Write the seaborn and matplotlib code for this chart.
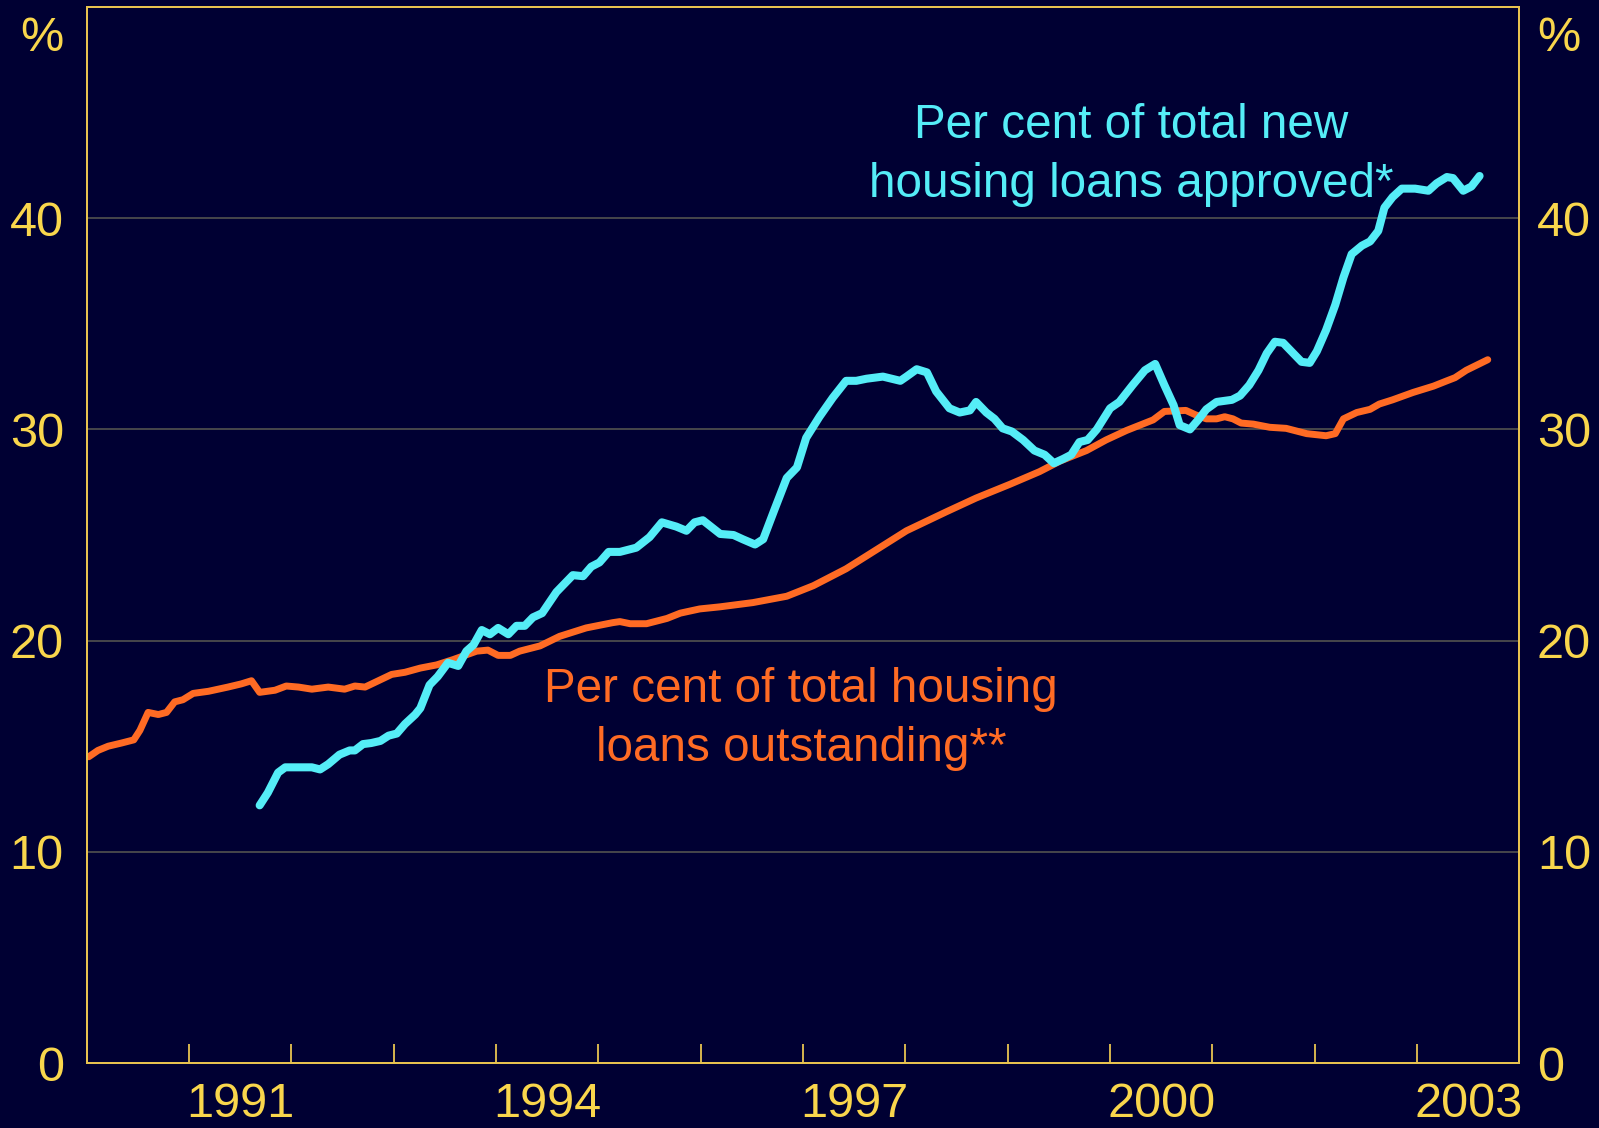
import matplotlib
matplotlib.use("Agg")
import matplotlib.pyplot as plt
import matplotlib.transforms as mtransforms
import seaborn as sns
import pandas as pd

# ---- data ----
outstanding_year = [
    1990.02, 1990.11, 1990.21, 1990.34, 1990.46, 1990.52, 1990.60, 1990.70, 1990.78, 1990.86,
    1990.94, 1991.04, 1991.19, 1991.38, 1991.51, 1991.61, 1991.69, 1991.84, 1991.95, 1992.07,
    1992.20, 1992.36, 1992.52, 1992.62, 1992.72, 1992.85, 1992.98, 1993.11, 1993.26, 1993.42,
    1993.58, 1993.81, 1993.92, 1994.02, 1994.14, 1994.23, 1994.43, 1994.62, 1994.88, 1995.14,
    1995.21, 1995.31, 1995.47, 1995.67, 1995.80, 1995.99, 1996.19, 1996.51, 1996.84, 1997.10,
    1997.42, 1997.65, 1998.01, 1998.40, 1998.69, 1999.02, 1999.31, 1999.51, 1999.77, 1999.96,
    2000.16, 2000.42, 2000.53, 2000.74, 2000.83, 2000.94, 2001.04, 2001.12, 2001.20, 2001.28,
    2001.40, 2001.56, 2001.72, 2001.92, 2002.11, 2002.20, 2002.28, 2002.41, 2002.54, 2002.63,
    2002.76, 2002.96, 2003.16, 2003.29, 2003.37, 2003.48, 2003.69,
]
outstanding_pct = [
    14.5, 14.8, 15.0, 15.15, 15.3, 15.75, 16.6, 16.5, 16.6, 17.1,
    17.2, 17.5, 17.6, 17.8, 17.95, 18.1, 17.55, 17.65, 17.85, 17.8,
    17.7, 17.8, 17.7, 17.85, 17.8, 18.1, 18.4, 18.5, 18.7, 18.85,
    19.1, 19.5, 19.55, 19.3, 19.3, 19.5, 19.75, 20.2, 20.6, 20.85,
    20.9, 20.8, 20.8, 21.05, 21.3, 21.5, 21.6, 21.8, 22.1, 22.6,
    23.4, 24.1, 25.2, 26.1, 26.75, 27.4, 28.0, 28.5, 29.0, 29.5,
    29.95, 30.45, 30.85, 30.9, 30.7, 30.5, 30.5, 30.6, 30.5, 30.3,
    30.25, 30.1, 30.05, 29.8, 29.7, 29.8, 30.5, 30.8, 30.95, 31.2,
    31.4, 31.75, 32.05, 32.3, 32.45, 32.8, 33.3,
]

approved_year = [
    1991.69, 1991.77, 1991.87, 1991.94, 1992.07, 1992.20, 1992.28, 1992.36, 1992.47, 1992.57,
    1992.62, 1992.70, 1992.78, 1992.87, 1992.95, 1993.03, 1993.11, 1993.21, 1993.26, 1993.35,
    1993.43, 1993.53, 1993.63, 1993.71, 1993.78, 1993.86, 1993.94, 1994.02, 1994.12, 1994.20,
    1994.28, 1994.36, 1994.45, 1994.59, 1994.75, 1994.85, 1994.93, 1995.01, 1995.10, 1995.21,
    1995.37, 1995.50, 1995.62, 1995.76, 1995.86, 1995.94, 1996.02, 1996.19, 1996.32, 1996.41,
    1996.53, 1996.61, 1996.72, 1996.84, 1996.94, 1997.03, 1997.16, 1997.29, 1997.42, 1997.52,
    1997.62, 1997.78, 1997.95, 1998.01, 1998.11, 1998.21, 1998.30, 1998.43, 1998.53, 1998.63,
    1998.69, 1998.79, 1998.87, 1998.95, 1999.04, 1999.15, 1999.26, 1999.36, 1999.45, 1999.54,
    1999.62, 1999.70, 1999.78, 1999.87, 2000.00, 2000.09, 2000.22, 2000.34, 2000.44, 2000.53,
    2000.62, 2000.68, 2000.78, 2000.86, 2000.94, 2001.04, 2001.19, 2001.27, 2001.36, 2001.45,
    2001.53, 2001.61, 2001.69, 2001.79, 2001.87, 2001.95, 2002.02, 2002.11, 2002.20, 2002.28,
    2002.36, 2002.46, 2002.54, 2002.62, 2002.68, 2002.76, 2002.85, 2002.98, 2003.11, 2003.19,
    2003.29, 2003.35, 2003.45, 2003.53, 2003.61,
]
approved_pct = [
    12.2, 12.8, 13.75, 14.0, 14.0, 14.0, 13.9, 14.15, 14.6, 14.8,
    14.8, 15.1, 15.15, 15.25, 15.5, 15.6, 16.05, 16.5, 16.8, 17.9,
    18.3, 18.95, 18.8, 19.5, 19.8, 20.5, 20.3, 20.6, 20.3, 20.7,
    20.7, 21.1, 21.3, 22.3, 23.1, 23.05, 23.5, 23.7, 24.2, 24.2,
    24.4, 24.9, 25.6, 25.4, 25.2, 25.6, 25.7, 25.05, 25.0, 24.8,
    24.55, 24.8, 26.2, 27.7, 28.2, 29.6, 30.6, 31.5, 32.3, 32.3,
    32.4, 32.5, 32.3, 32.5, 32.85, 32.7, 31.8, 31.0, 30.8, 30.9,
    31.3, 30.8, 30.5, 30.05, 29.9, 29.5, 29.0, 28.8, 28.4, 28.6,
    28.8, 29.4, 29.5, 30.0, 31.0, 31.3, 32.1, 32.8, 33.1, 32.1,
    31.15, 30.2, 30.0, 30.45, 30.95, 31.3, 31.4, 31.6, 32.1, 32.8,
    33.6, 34.15, 34.1, 33.6, 33.2, 33.15, 33.7, 34.7, 35.9, 37.2,
    38.3, 38.7, 38.9, 39.4, 40.5, 41.0, 41.4, 41.4, 41.3, 41.65,
    41.95, 41.9, 41.3, 41.5, 42.0,
]

year_ticks = list(range(1991, 2004))
year_labels = ["1991", "1994", "1997", "2000", "2003"]
y_ticks = [0, 10, 20, 30, 40]
y_labels = ["0", "10", "20", "30", "40"]

label_approved = "Per cent of total new\nhousing loans approved*"
label_outstanding = "Per cent of total housing\nloans outstanding**"

# ---- style ----
BG = "#000033"
YELLOW = "#F9D64C"
SPINE = "#E8C350"
GRID = "#5A5A52"
CYAN = "#55EDF7"
ORANGE = "#FF6B24"

sns.set_theme(style="dark", rc={
    "axes.facecolor": BG,
    "figure.facecolor": BG,
    "savefig.facecolor": BG,
})
plt.rcParams["font.family"] = ["Liberation Sans", "DejaVu Sans"]

df_out = pd.DataFrame({"year": outstanding_year, "pct": outstanding_pct})
df_app = pd.DataFrame({"year": approved_year, "pct": approved_pct})

fig = plt.figure(figsize=(15.99, 11.28), dpi=100)
ax = fig.add_axes([0.05422, 0.05762, 0.89606, 0.93617])
ax.set_facecolor(BG)

ax.set_xlim(1990, 2004)
ax.set_ylim(0, 50)

# gridlines
ax.set_yticks(y_ticks)
ax.yaxis.grid(True, color=GRID, linewidth=1.1)
ax.xaxis.grid(False)
ax.set_axisbelow(True)

sns.lineplot(data=df_out, x="year", y="pct", ax=ax, color=ORANGE,
             linewidth=5.0, estimator=None, sort=False)
sns.lineplot(data=df_app, x="year", y="pct", ax=ax, color=CYAN,
             linewidth=5.8, estimator=None, sort=False)

ax.set_xlabel("")
ax.set_ylabel("")

# x ticks: marks at year boundaries, labels centred in the year
ax.set_xticks(year_ticks)
ax.set_xticklabels([""] * len(year_ticks))
ax.tick_params(axis="x", which="major", direction="in", length=13.5, width=1.3,
               color=SPINE, bottom=True, top=False)
mid = [int(y) + 0.5 for y in year_labels]
ax.set_xticks(mid, minor=True)
ax.set_xticklabels(year_labels, minor=True)
ax.tick_params(axis="x", which="minor", length=0, pad=14, labelsize=35,
               labelcolor=YELLOW)

# y ticks left
ax.set_yticklabels(y_labels)
ax.tick_params(axis="y", which="both", length=0, pad=16.5, labelsize=35,
               labelcolor=YELLOW, left=True)

# right axis labels
ax2 = ax.twinx()
ax2.set_ylim(0, 50)
ax2.set_yticks(y_ticks)
ax2.set_yticklabels(y_labels)
ax2.tick_params(axis="y", length=0, pad=12.5, labelsize=35, labelcolor=YELLOW)
ax2.grid(False)

for a in (ax, ax2):
    for s in a.spines.values():
        s.set_visible(True)
        s.set_color(SPINE)
        s.set_linewidth(1.4)

# "%" unit labels
tl = mtransforms.offset_copy(ax.get_yaxis_transform(), fig=fig, x=-16.5, units="points")
ax.text(0, 48.5, "%", transform=tl, ha="right", va="center", fontsize=35, color=YELLOW)
tr = mtransforms.offset_copy(ax.get_yaxis_transform(), fig=fig, x=12.5, units="points")
ax.text(1, 48.5, "%", transform=tr, ha="left", va="center", fontsize=35, color=YELLOW)

# series annotations
ax.text(2000.21, 43.0, label_approved, ha="center", va="center", fontsize=34.3,
        color=CYAN, linespacing=1.4)
ax.text(1996.98, 16.3, label_outstanding, ha="center", va="center", fontsize=34.3,
        color=ORANGE, linespacing=1.4)

fig.savefig("out.png", dpi=100, facecolor=BG)
